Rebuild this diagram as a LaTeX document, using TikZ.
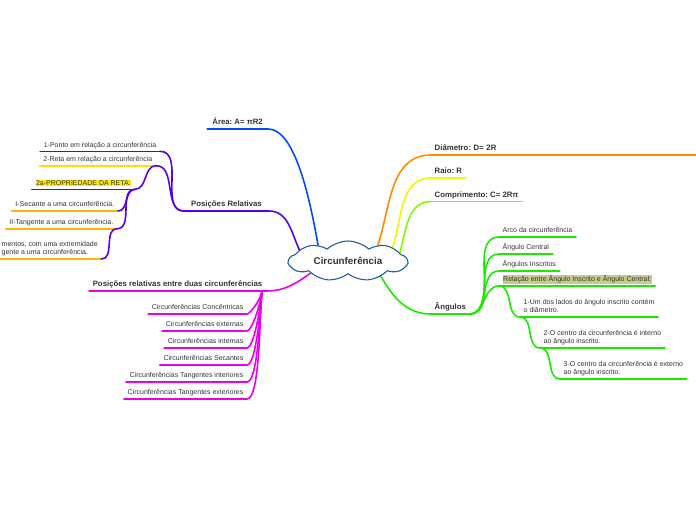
\documentclass[tikz,border=0pt]{standalone}
\usepackage{fontspec}
\setmainfont{Liberation Sans}
\usepackage{tikz}
\usetikzlibrary{shapes.symbols, backgrounds}
\frenchspacing

\definecolor{txtgray}{RGB}{51,51,51}
\definecolor{cloudblue}{RGB}{30,95,165}
\definecolor{areablue}{RGB}{0,76,255}
\definecolor{posviolet}{RGB}{85,0,238}
\definecolor{circmag}{RGB}{235,0,235}
\definecolor{diamorange}{RGB}{255,140,0}
\definecolor{raioyellow}{RGB}{245,245,0}
\definecolor{complime}{RGB}{130,250,0}
\definecolor{angreen}{RGB}{25,235,0}
\definecolor{retayellow}{RGB}{255,225,0}
\definecolor{secamber}{RGB}{255,180,0}
\definecolor{hlyellow}{RGB}{255,232,20}
\definecolor{hlolive}{RGB}{198,204,140}

\begin{document}
\begin{tikzpicture}[x=1pt, y=-1pt,
    topic/.style={inner xsep=3.5pt, inner ysep=2.5pt, text depth=1.5pt, text=txtgray,
      font=\fontsize{7}{8}\selectfont},
    maintopic/.style={topic, font=\fontsize{7.8}{9}\selectfont\bfseries},
    lft/.style={anchor=south east, align=right},
    rgt/.style={anchor=south west, align=left},
    ul/.style={line width=1.6pt, line cap=round},
    link/.style={line width=1.6pt, line cap=round}]
  \useasboundingbox (0,0) rectangle (696,520);

  % central topic
  \node[cloud, cloud puffs=9, cloud puff arc=85, cloud ignores aspect,
        minimum width=118pt, minimum height=40pt, inner sep=0pt,
        draw=cloudblue, fill=white, line width=1.1pt, text=txtgray,
        font=\fontsize{9.8}{11}\selectfont\bfseries] (circ) at (348,261) {Circunferência};

  % right side
  \node[maintopic, rgt, text width=258pt] (diam) at (431,155) {Diâmetro: D= 2R};
  \node[maintopic, rgt] (raio) at (431,178) {Raio: R};
  \node[maintopic, rgt] (comp) at (431,201.5) {Comprimento: C= 2Rπ};
  \node[maintopic, rgt] (ang) at (431,314) {Ângulos};

  \node[topic, rgt] (arco) at (499,237) {Arco da circunferência};
  \node[topic, rgt] (central) at (499,254) {Ângulo Central};
  \node[topic, rgt] (inscr) at (499,271) {Ângulos Inscritos};
  \node[topic, rgt] (rel) at (499,286) {\fboxsep=0.5pt\colorbox{hlolive}{Relação entre Ângulo Inscrito e Ângulo Central:}};
  \node[topic, rgt] (um) at (520,317) {1-Um dos lados do ângulo inscrito contém\\o diâmetro.};
  \node[topic, rgt] (dois) at (540,348) {2-O centro da circunferência é interno\hspace{4pt}\\ao ângulo inscrito.};
  \node[topic, rgt] (tres) at (560,379) {3-O centro da circunferência é externo\\ao ângulo inscrito.};

  % left side
  \node[maintopic, lft, inner xsep=5pt] (area) at (268,129) {Área: A= πR2};
  \node[maintopic, lft, inner xsep=7pt] (posrel) at (269,211) {Posições Relativas};
  \node[maintopic, lft] (pos2) at (266,291) {Posições relativas entre duas circunferências};

  \node[topic, lft] (ponto) at (160,151.3) {1-Ponto em relação a circunferência};
  \node[topic, lft] (reta) at (156,165.7) {2-Reta em relação a circunferência};
  \node[topic, lft] (prop) at (135,189.3) {\fboxsep=0.5pt\colorbox{hlyellow}{2a-PROPRIEDADE DA RETA:}};
  \node[topic, lft] (sec) at (118,211) {I-Secante a uma circunferência.};
  \node[topic, lft] (tan) at (117,228.7) {II-Tangente a uma circunferência.};
  \node[topic, rgt] (seg) at (-2,259) {mentos, com uma extremidade\\gente a uma circunferência.};

  \foreach \n/\t [count=\i] in {conc/Circunferências Concêntricas, ext/Circunferências externas,
      int/Circunferências internas, seca/Circunferências Secantes,
      tint/Circunferências Tangentes interiores, text/Circunferências Tangentes exteriores}
    \node[topic, lft] (\n) at (247,{314+17*(\i-1)}) {\t};

  % underlines
  \foreach \n/\c in {diam/diamorange, raio/raioyellow, comp/complime, ang/angreen,
      arco/angreen, central/angreen, inscr/angreen, rel/angreen, um/angreen, dois/angreen, tres/angreen,
      area/areablue, posrel/posviolet, pos2/circmag, ponto/posviolet, reta/retayellow,
      prop/posviolet, sec/secamber, tan/secamber, seg/secamber,
      conc/circmag, ext/circmag, int/circmag, seca/circmag, tint/circmag, text/circmag}
    \draw[ul, \c] (\n.south west) -- (\n.south east);

  % connectors
  \begin{scope}[on background layer]
    \draw[link, diamorange] (circ.28) to[out=72, in=180] (diam.south west);
    \draw[link, raioyellow] (circ.17) to[out=72, in=180] (raio.south west);
    \draw[link, complime] (circ.9) to[out=75, in=180] (comp.south west);
    \draw[link, angreen] (circ.-25) to[out=-60, in=180] (ang.south west);
    \draw[link, areablue] (circ.152) to[out=100, in=0, out looseness=1.2, in looseness=0.5] (area.south east);
    \draw[link, posviolet] (circ.167) to[out=115, in=0] (posrel.south east);
    \draw[link, circmag] (circ.198) to[out=215, in=0] (pos2.south east);
  \end{scope}

  \foreach \n in {arco, central, inscr, rel}
    \draw[link, angreen] (ang.south east) to[out=0, in=180] (\n.south west);
  \draw[link, angreen] (rel.south west) to[out=0, in=180] (um.south west);
  \draw[link, angreen] (um.south west) to[out=0, in=180] (dois.south west);
  \draw[link, angreen] (dois.south west) to[out=0, in=180] (tres.south west);

  \draw[link, posviolet] (ponto.south east) to[out=0, in=180] (posrel.south west);
  \draw[link, posviolet] (reta.south east) to[out=0, in=180] (posrel.south west);
  \draw[link, posviolet] (prop.south east) to[out=0, in=180] (reta.south east);
  \draw[link, posviolet] (sec.south east) to[out=0, in=180] (prop.south east);
  \draw[link, posviolet] (tan.south east) to[out=0, in=180] (prop.south east);
  \draw[link, posviolet] (seg.south east) to[out=0, in=180] (tan.south east);

  \foreach \n in {conc, ext, int, seca, tint, text}
    \draw[link, circmag] (\n.south east) to[out=0, in=-95, out looseness=0.3, in looseness=0.7] ([xshift=-4pt]pos2.south east);
\end{tikzpicture}
\end{document}
